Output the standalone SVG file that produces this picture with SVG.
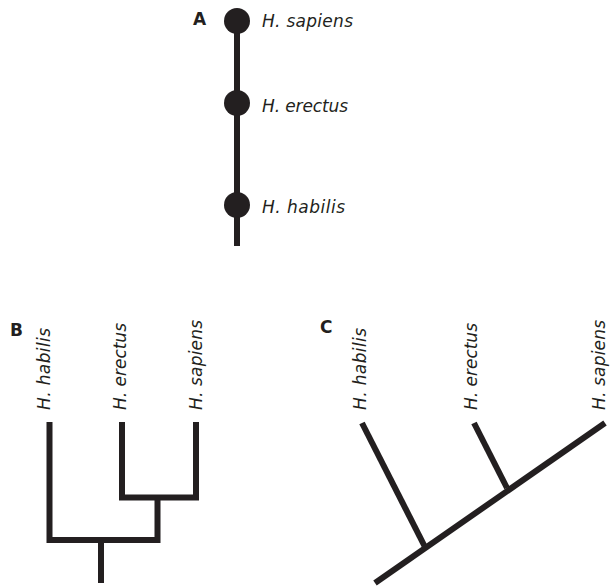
<svg xmlns="http://www.w3.org/2000/svg" width="610" height="586" viewBox="0 0 610 586">
<style>
.lbl{font-family:"DejaVu Sans","Liberation Sans",sans-serif;font-style:italic;font-size:17px;fill:#231f20}
.pl{font-family:"DejaVu Sans","Liberation Sans",sans-serif;font-weight:bold;font-size:17px;fill:#231f20}
.ln{fill:none;stroke:#231f20;stroke-width:6;stroke-linejoin:miter;stroke-linecap:butt}
.dot{fill:#231f20}
</style>
<rect width="610" height="586" fill="#fff"/>
<text class="pl" x="193" y="25">A</text>
<text class="pl" x="10" y="336">B</text>
<text class="pl" x="320" y="333">C</text>
<g id="connectors">
<path class="ln" d="M237,21 V246"/>
<path class="ln" d="M49.5,422 V540 H157.5 V497.5"/>
<path class="ln" d="M122,422 V497.5 H196 V422"/>
<path class="ln" d="M101,540 V583"/>
<path class="ln" d="M375,583 L605,423"/>
<path class="ln" d="M362,423 L425,547"/>
<path class="ln" d="M474,423 L507,488"/>
</g>
<g id="a-sapiens"><circle class="dot" cx="237" cy="21" r="13"/><text class="lbl" x="262" y="27" textLength="91" lengthAdjust="spacing">H. sapiens</text></g>
<g id="a-erectus"><circle class="dot" cx="237" cy="103" r="13"/><text class="lbl" x="262" y="112" textLength="86" lengthAdjust="spacing">H. erectus</text></g>
<g id="a-habilis"><circle class="dot" cx="237" cy="205" r="13"/><text class="lbl" x="262" y="213" textLength="83" lengthAdjust="spacing">H. habilis</text></g>
<g id="b-habilis"><text class="lbl" transform="translate(50,410) rotate(-90)" textLength="82" lengthAdjust="spacing">H. habilis</text></g>
<g id="b-erectus"><text class="lbl" transform="translate(126,410) rotate(-90)" textLength="87" lengthAdjust="spacing">H. erectus</text></g>
<g id="b-sapiens"><text class="lbl" transform="translate(202,410) rotate(-90)" textLength="90" lengthAdjust="spacing">H. sapiens</text></g>
<g id="c-habilis"><text class="lbl" transform="translate(366,410) rotate(-90)" textLength="82" lengthAdjust="spacing">H. habilis</text></g>
<g id="c-erectus"><text class="lbl" transform="translate(477,410) rotate(-90)" textLength="87" lengthAdjust="spacing">H. erectus</text></g>
<g id="c-sapiens"><text class="lbl" transform="translate(605,410) rotate(-90)" textLength="90" lengthAdjust="spacing">H. sapiens</text></g>
</svg>
